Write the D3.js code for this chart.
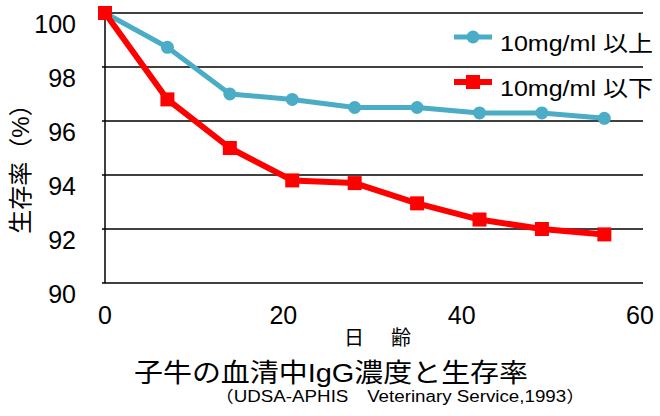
<!DOCTYPE html>
<html><head><meta charset="utf-8">
<script src="https://cdn.jsdelivr.net/npm/d3@7"></script>
<style>body{margin:0;background:#fff}</style>
</head><body>
<svg id="c" width="660" height="416"></svg>
<script>
const days = [0, 7, 14, 21, 28, 35, 42, 49, 56];
const above = [100, 98.73, 97.0, 96.8, 96.5, 96.5, 96.3, 96.3, 96.1];
const below = [100, 96.8, 95.0, 93.8, 93.7, 92.95, 92.35, 92.0, 91.8];
const seriesNames = ["10mg/ml 以上", "10mg/ml 以下"];
const yTicks = [90, 92, 94, 96, 98, 100];
const xTicks = [0, 20, 40, 60];

const svg = d3.select("#c");
const font = "'Liberation Sans', Arial, 'Noto Sans CJK JP', sans-serif";
const x = d3.scaleLinear().domain([0, 60]).range([105, 640]);
const y = d3.scaleLinear().domain([90, 100]).range([283, 13]);

// gridlines
svg.append("g").selectAll("line").data(yTicks).join("line")
  .attr("x1", 102).attr("x2", 643)
  .attr("y1", d => y(d)).attr("y2", d => y(d))
  .attr("stroke", "#000").attr("stroke-width", 1.5);
// y axis line
svg.append("line").attr("x1", 105).attr("x2", 105).attr("y1", y(100)).attr("y2", y(90))
  .attr("stroke", "#000").attr("stroke-width", 1.5);

// y tick labels
svg.append("g").selectAll("text").data(yTicks).join("text")
  .attr("x", 76).attr("y", d => y(d) + 10.5).attr("dy", "0.36em")
  .attr("text-anchor", "end").attr("font-family", font).attr("font-size", 25)
  .text(d => d);
// x tick labels
svg.append("g").selectAll("text").data(xTicks).join("text")
  .attr("x", d => x(d)).attr("y", 315).attr("dy", "0.36em").attr("text-anchor", "middle")
  .attr("font-family", font).attr("font-size", 25).text(d => d);

// y title
svg.append("text").attr("transform", "translate(20,163) rotate(-90)")
  .attr("text-anchor", "middle").attr("dominant-baseline", "central")
  .attr("font-family", font).attr("font-size", 24)
  .text("生存率（%）");
// x title
svg.append("text").attr("x", 344).attr("y", 338).attr("dominant-baseline", "central")
  .attr("textLength", 67).attr("lengthAdjust", "spacing")
  .attr("font-family", font).attr("font-size", 20).text("日　齢");
svg.append("text").attr("x", 134).attr("y", 373).attr("dominant-baseline", "central")
  .attr("textLength", 394).attr("lengthAdjust", "spacingAndGlyphs")
  .attr("font-family", font).attr("font-size", 26).text("子牛の血清中IgG濃度と生存率");
svg.append("text").attr("x", 215).attr("y", 396).attr("dominant-baseline", "central")
  .attr("textLength", 370).attr("lengthAdjust", "spacingAndGlyphs")
  .attr("font-family", font).attr("font-size", 16).text("（UDSA-APHIS　Veterinary Service,1993）");

const line = d3.line().x((d, i) => x(days[i])).y(d => y(d));
const blue = "#4bacc6", red = "#ff0000";

// blue series
svg.append("path").datum(above).attr("d", line).attr("fill", "none")
  .attr("stroke", blue).attr("stroke-width", 5).attr("stroke-linejoin", "round");
svg.append("g").selectAll("circle").data(above).join("circle")
  .attr("cx", (d, i) => x(days[i])).attr("cy", d => y(d)).attr("r", 6.5).attr("fill", blue);

// red series
svg.append("path").datum(below).attr("d", line).attr("fill", "none")
  .attr("stroke", red).attr("stroke-width", 6).attr("stroke-linejoin", "round");
svg.append("g").selectAll("rect").data(below).join("rect")
  .attr("x", (d, i) => x(days[i]) - 7).attr("y", d => y(d) - 7)
  .attr("width", 14).attr("height", 14).attr("fill", red);

// legend
const leg = [{c: blue, t: seriesNames[0], yy: 37, shape: "circle"},
             {c: red, t: seriesNames[1], yy: 82, shape: "rect"}];
const lg = svg.append("g").selectAll("g").data(leg).join("g");
lg.append("line").attr("x1", 454).attr("x2", 492).attr("y1", d => d.yy).attr("y2", d => d.yy)
  .attr("stroke", d => d.c).attr("stroke-width", d => d.shape === "rect" ? 6 : 5);
lg.filter(d => d.shape === "circle").append("circle").attr("cx", 473).attr("cy", d => d.yy)
  .attr("r", 6.5).attr("fill", d => d.c);
lg.filter(d => d.shape === "rect").append("rect").attr("x", 466).attr("y", d => d.yy - 7)
  .attr("width", 14).attr("height", 14).attr("fill", d => d.c);
lg.append("text").attr("x", 500).attr("y", d => d.yy + 6).attr("dominant-baseline", "central")
  .attr("textLength", 153).attr("lengthAdjust", "spacingAndGlyphs")
  .attr("font-family", font).attr("font-size", 22).text(d => d.t);
</script>
</body></html>
